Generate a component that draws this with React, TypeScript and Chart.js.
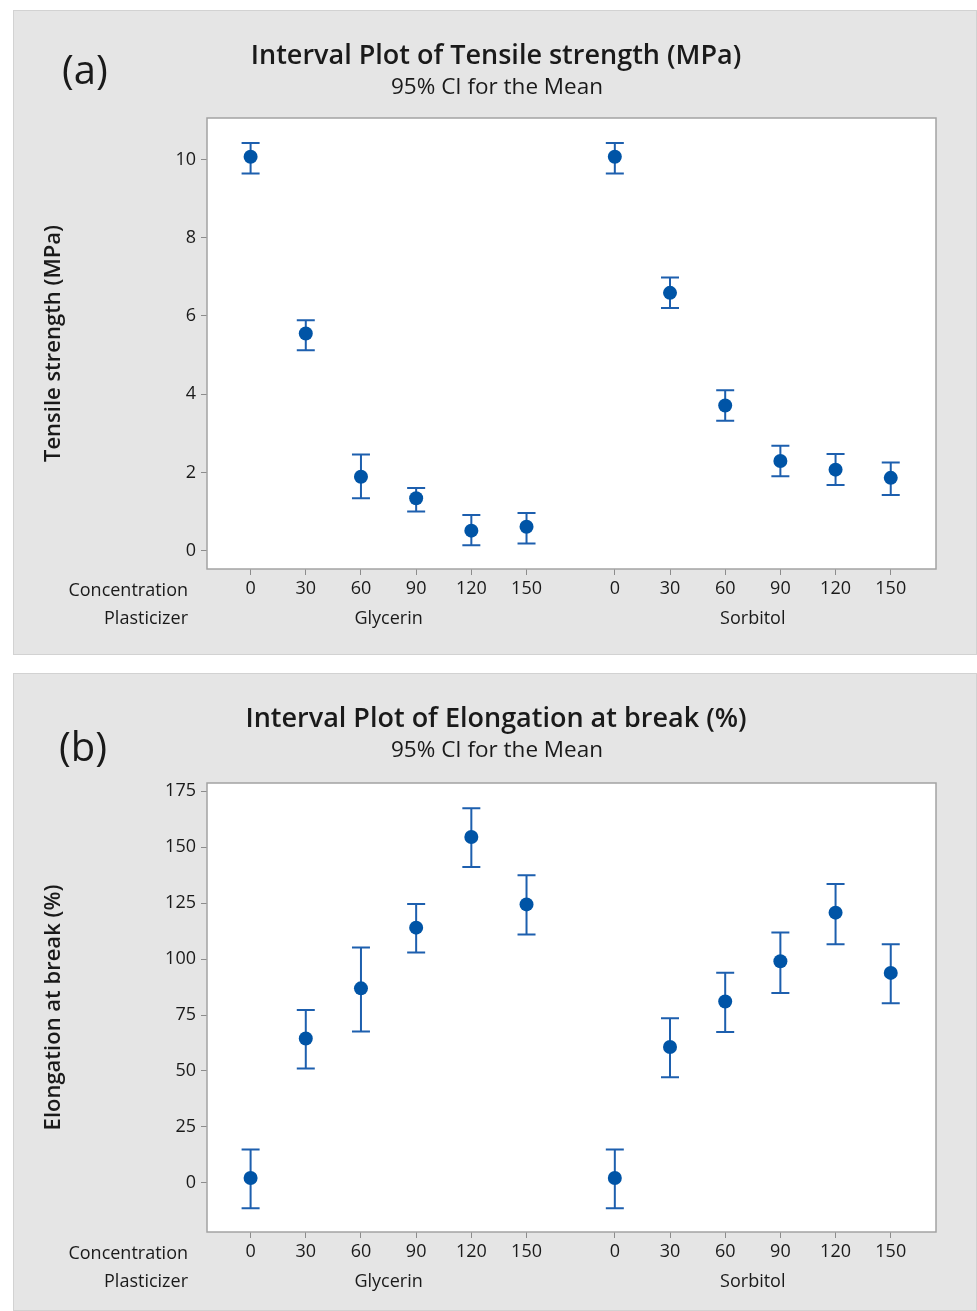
import React, { useEffect, useRef } from "react";
import { Chart, registerables } from "chart.js";

Chart.register(...registerables);

// ---------- data ----------
const concentrations = ["0", "30", "60", "90", "120", "150"];
const plasticizers = ["Glycerin", "Sorbitol"];

// Tensile strength (MPa), 95% CI
const tensileGlyMean = [10.07, 5.55, 1.89, 1.34, 0.51, 0.61];
const tensileGlyLow = [9.64, 5.12, 1.34, 1.0, 0.14, 0.18];
const tensileGlyHigh = [10.42, 5.89, 2.46, 1.6, 0.91, 0.96];
const tensileSorMean = [10.07, 6.59, 3.71, 2.29, 2.07, 1.86];
const tensileSorLow = [9.64, 6.2, 3.32, 1.9, 1.68, 1.42];
const tensileSorHigh = [10.42, 6.98, 4.1, 2.68, 2.47, 2.25];
const tensileTicks = [0, 2, 4, 6, 8, 10];

// Elongation at break (%), 95% CI
const elongGlyMean = [2.2, 64.5, 86.9, 114.0, 154.5, 124.4];
const elongGlyLow = [-11.3, 51.1, 67.6, 102.9, 141.1, 111.0];
const elongGlyHigh = [14.9, 77.2, 105.1, 124.6, 167.3, 137.4];
const elongSorMean = [2.2, 60.7, 81.0, 99.0, 120.7, 93.8];
const elongSorLow = [-11.3, 47.2, 67.4, 84.8, 106.6, 80.2];
const elongSorHigh = [14.9, 73.5, 93.9, 111.8, 133.5, 106.6];
const elongTicks = [0, 25, 50, 75, 100, 125, 150, 175];

// ---------- styling ----------
const FONT = "'Open Sans', 'Noto Sans', sans-serif";
const TEXT = "#1a1a1a";
const MARK = "#0054a6";
const BAR = "#1d5fae";
const GROUP_GAP = 1.6;

const xPos = (g: number, i: number) => g * (concentrations.length - 1 + GROUP_GAP) + i;
const tickPositions: number[] = [];
const tickLabels: string[] = [];
plasticizers.forEach((_, g) =>
  concentrations.forEach((c, i) => {
    tickPositions.push(xPos(g, i));
    tickLabels.push(c);
  })
);

type PanelProps = {
  letter: string;
  letterX: number;
  letterY: number;
  title: string;
  yTitle: string;
  means: number[][];
  lows: number[][];
  highs: number[][];
  yTicks: number[];
  yMin: number;
  yMax: number;
  top: number;
  height: number;
  areaTop: number;
};

function Panel(p: PanelProps) {
  const ref = useRef<HTMLCanvasElement | null>(null);
  const W = 962;
  const H = p.height - 2;
  const areaBottom = 558;

  useEffect(() => {
    if (!ref.current) return;
    const pts: { x: number; y: number; lo: number; hi: number }[] = [];
    plasticizers.forEach((_, g) =>
      concentrations.forEach((__, i) =>
        pts.push({ x: xPos(g, i), y: p.means[g][i], lo: p.lows[g][i], hi: p.highs[g][i] })
      )
    );

    const plotFrame = {
      id: "plotFrame",
      beforeDraw(chart: any) {
        const { ctx, chartArea: a } = chart;
        ctx.save();
        ctx.fillStyle = "#ffffff";
        ctx.fillRect(a.left, a.top, a.right - a.left, a.bottom - a.top);
        ctx.restore();
      },
      afterDraw(chart: any) {
        const { ctx, chartArea: a } = chart;
        ctx.save();
        ctx.strokeStyle = "#a3a3a3";
        ctx.lineWidth = 1.5;
        ctx.strokeRect(a.left, a.top, a.right - a.left, a.bottom - a.top);
        ctx.restore();
      },
    };

    const errorBars = {
      id: "errorBars",
      beforeDatasetsDraw(chart: any) {
        const { ctx } = chart;
        const xs = chart.scales.x;
        const ys = chart.scales.y;
        ctx.save();
        ctx.strokeStyle = BAR;
        ctx.lineWidth = 2;
        pts.forEach((pt) => {
          const x = xs.getPixelForValue(pt.x);
          const yl = ys.getPixelForValue(pt.lo);
          const yh = ys.getPixelForValue(pt.hi);
          ctx.beginPath();
          ctx.moveTo(x, yl);
          ctx.lineTo(x, yh);
          ctx.moveTo(x - 9, yl);
          ctx.lineTo(x + 9, yl);
          ctx.moveTo(x - 9, yh);
          ctx.lineTo(x + 9, yh);
          ctx.stroke();
        });
        ctx.restore();
      },
    };

    const texts = {
      id: "texts",
      afterDraw(chart: any) {
        const { ctx, chartArea: a } = chart;
        const xs = chart.scales.x;
        ctx.save();
        ctx.fillStyle = TEXT;
        ctx.textBaseline = "alphabetic";
        // panel letter
        ctx.textAlign = "left";
        ctx.font = `40px ${FONT}`;
        ctx.fillText(p.letter, p.letterX, p.letterY);
        // title + subtitle
        ctx.textAlign = "center";
        ctx.font = `600 27px ${FONT}`;
        ctx.fillText(p.title, 482, 53);
        ctx.font = `500 22.5px ${FONT}`;
        ctx.fillText("95% CI for the Mean", 483, 83);
        // y title
        ctx.save();
        ctx.translate(46, (a.top + a.bottom) / 2);
        ctx.rotate(-Math.PI / 2);
        ctx.font = `600 22px ${FONT}`;
        ctx.textAlign = "center";
        ctx.fillText(p.yTitle, 0, 0);
        ctx.restore();
        // row labels
        ctx.font = `18px ${FONT}`;
        ctx.textAlign = "right";
        ctx.fillText("Concentration", 174, 585);
        ctx.fillText("Plasticizer", 174, 613);
        // group labels
        ctx.textAlign = "center";
        plasticizers.forEach((name, g) => {
          const x0 = xs.getPixelForValue(xPos(g, 0));
          const x1 = xs.getPixelForValue(xPos(g, concentrations.length - 1));
          ctx.fillText(name, (x0 + x1) / 2, 613);
        });
        ctx.restore();
      },
    };

    const chart = new Chart(ref.current, {
      type: "scatter",
      data: {
        datasets: [
          {
            data: pts.map((q) => ({ x: q.x, y: q.y })),
            pointRadius: 7,
            pointHoverRadius: 7,
            pointBackgroundColor: MARK,
            pointBorderColor: MARK,
            pointBorderWidth: 0,
            showLine: false,
          },
        ],
      },
      options: {
        responsive: false,
        animation: false,
        events: [],
        layout: { padding: { top: p.areaTop, right: W - 922, bottom: 0, left: 0 } },
        plugins: { legend: { display: false }, tooltip: { enabled: false }, title: { display: false } },
        scales: {
          x: {
            type: "linear",
            min: -0.79,
            max: 12.42,
            afterBuildTicks: (s: any) => {
              s.ticks = tickPositions.map((v) => ({ value: v }));
            },
            afterFit: (s: any) => {
              s.height = H - areaBottom;
            },
            ticks: {
              autoSkip: false,
              maxRotation: 0,
              minRotation: 0,
              padding: 3,
              color: TEXT,
              font: { family: FONT, size: 18 },
              callback: (v: any) => {
                let best = 0;
                tickPositions.forEach((t, i) => {
                  if (Math.abs(t - v) < Math.abs(tickPositions[best] - v)) best = i;
                });
                return tickLabels[best];
              },
            },
            grid: { display: true, drawOnChartArea: false, drawTicks: true, tickLength: 6, color: "#8c8c8c" },
            border: { display: false },
          },
          y: {
            type: "linear",
            min: p.yMin,
            max: p.yMax,
            afterBuildTicks: (s: any) => {
              s.ticks = p.yTicks.map((v) => ({ value: v }));
            },
            afterFit: (s: any) => {
              s.width = 193;
            },
            ticks: {
              padding: 5,
              color: TEXT,
              font: { family: FONT, size: 18 },
            },
            grid: { display: true, drawOnChartArea: false, drawTicks: true, tickLength: 6, color: "#8c8c8c" },
            border: { display: false },
          },
        },
      },
      plugins: [plotFrame, errorBars, texts],
    } as any);
    return () => chart.destroy();
  }, []);

  return (
    <div
      style={{
        position: "absolute",
        left: 13,
        top: p.top,
        width: 964,
        height: p.height,
        boxSizing: "border-box",
        border: "1px solid #d2d2d2",
        background: "#e5e5e5",
      }}
    >
      <canvas ref={ref} width={W} height={H} style={{ display: "block", width: W, height: H }} />
    </div>
  );
}

export default function App() {
  useEffect(() => {
    document.body.style.margin = "0";
    document.body.style.background = "#ffffff";
  }, []);
  return (
    <div style={{ position: "relative", width: 977, height: 1311, overflow: "hidden" }}>
      <Panel
        letter="(a)"
        letterX={48}
        letterY={73}
        title="Interval Plot of Tensile strength (MPa)"
        yTitle="Tensile strength (MPa)"
        means={[tensileGlyMean, tensileSorMean]}
        lows={[tensileGlyLow, tensileSorLow]}
        highs={[tensileGlyHigh, tensileSorHigh]}
        yTicks={tensileTicks}
        yMin={-0.47}
        yMax={11.06}
        top={10}
        height={645}
        areaTop={107}
      />
      <Panel
        letter="(b)"
        letterX={45}
        letterY={87}
        title="Interval Plot of Elongation at break (%)"
        yTitle="Elongation at break (%)"
        means={[elongGlyMean, elongSorMean]}
        lows={[elongGlyLow, elongSorLow]}
        highs={[elongGlyHigh, elongSorHigh]}
        yTicks={elongTicks}
        yMin={-21.9}
        yMax={178.6}
        top={673}
        height={638}
        areaTop={109}
      />
    </div>
  );
}
